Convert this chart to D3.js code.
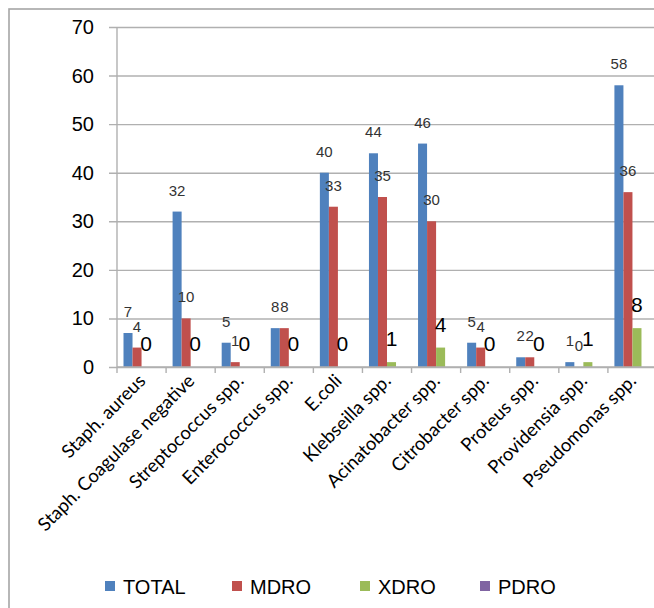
<!DOCTYPE html>
<html>
<head>
<meta charset="utf-8">
<script src="https://cdn.jsdelivr.net/npm/d3@7"></script>
<style>
  html, body { margin: 0; padding: 0; background: #fff; }
  svg { display: block; }
</style>
</head>
<body>
<svg id="chart" width="654" height="608"></svg>
<script>
// Isolated organisms and their resistance categories
const categories = [
  "Staph. aureus", "Staph. Coagulase negative", "Streptococcus spp.",
  "Enterococcus spp.", "E.coli", "Klebseilla spp.", "Acinatobacter spp.",
  "Citrobacter spp.", "Proteus spp.", "Providensia spp.", "Pseudomonas spp."
];
const seriesNames = ["TOTAL", "MDRO", "XDRO", "PDRO"];
const seriesColors = ["#4F81BD", "#C0504D", "#9BBB59", "#8064A2"];
const totalValues = [7, 32, 5, 8, 40, 44, 46, 5, 2, 1, 58];
const mdroValues  = [4, 10, 1, 8, 33, 35, 30, 4, 2, 0, 36];
const xdroValues  = [0, 0, 0, 0, 0, 1, 4, 0, 0, 1, 8];
const pdroValues  = [0, 0, 0, 0, 0, 0, 0, 0, 0, 0, 0];
const yTicks = [0, 10, 20, 30, 40, 50, 60, 70];

const seriesValues = [totalValues, mdroValues, xdroValues, pdroValues];

const svg = d3.select("#chart");
const plot = { left: 117, right: 657, top: 27, bottom: 367 };

const x = d3.scaleBand().domain(categories).range([plot.left, plot.right]);
const xs = d3.scaleBand().domain(seriesNames).range([6.5, x.bandwidth() - 6.5]);
const y = d3.scaleLinear().domain([0, 70]).range([plot.bottom, plot.top]);

// chart frame
svg.append("rect")
  .attr("x", 9).attr("y", 9)
  .attr("width", 700).attr("height", 700)
  .attr("fill", "none")
  .attr("stroke", "#a6a6a6")
  .attr("stroke-width", 1.6);

// horizontal gridlines
const yAxis = d3.axisLeft(y).tickValues(yTicks)
  .tickSize(-(plot.right - plot.left)).tickFormat("");
svg.append("g")
  .attr("transform", `translate(${plot.left},0)`)
  .call(yAxis)
  .call(g => g.select(".domain").remove())
  .call(g => g.selectAll(".tick line")
    .attr("stroke", "#b0b0b0").attr("stroke-width", 1.4)
    .attr("x1", -8));

// y-axis line
svg.append("line")
  .attr("x1", plot.left).attr("x2", plot.left)
  .attr("y1", plot.top).attr("y2", plot.bottom)
  .attr("stroke", "#b0b0b0").attr("stroke-width", 1.4);

// y tick labels
svg.append("g").selectAll("text")
  .data(yTicks).join("text")
  .attr("x", 94).attr("y", d => y(d) + 7)
  .attr("text-anchor", "end")
  .attr("font-family", "Liberation Sans, Arial, sans-serif")
  .attr("font-size", 20)
  .attr("fill", "#000")
  .text(d => d);

// x-axis ticks at band boundaries
const bounds = categories.map(c => x(c)).concat([plot.right]);
svg.append("g").selectAll("line")
  .data(bounds).join("line")
  .attr("x1", d => d).attr("x2", d => d)
  .attr("y1", plot.bottom).attr("y2", plot.bottom + 6)
  .attr("stroke", "#b0b0b0").attr("stroke-width", 1.4);

// bars
const rows = [];
categories.forEach((c, i) => {
  seriesNames.forEach((s, j) => {
    rows.push({ cat: c, series: s, idx: j, value: seriesValues[j][i] });
  });
});

svg.append("g").selectAll("rect")
  .data(rows.filter(d => d.value > 0)).join("rect")
  .attr("x", d => x(d.cat) + xs(d.series))
  .attr("y", d => y(d.value))
  .attr("width", xs.bandwidth())
  .attr("height", d => y(0) - y(d.value))
  .attr("fill", d => seriesColors[d.idx]);

// x-axis baseline
svg.append("line")
  .attr("x1", plot.left).attr("x2", plot.right)
  .attr("y1", plot.bottom).attr("y2", plot.bottom)
  .attr("stroke", "#b0b0b0").attr("stroke-width", 1.4);

// value labels (TOTAL and MDRO small, XDRO large, PDRO unlabeled)
svg.append("g").selectAll("text")
  .data(rows.filter(d => d.series !== "PDRO")).join("text")
  .attr("x", d => x(d.cat) + xs(d.series) + xs.bandwidth() / 2)
  .attr("y", d => y(d.value) - 16)
  .attr("text-anchor", "middle")
  .attr("font-family", "Liberation Sans, Arial, sans-serif")
  .attr("font-size", d => d.series === "XDRO" ? 21 : 15)
  .attr("fill", d => d.series === "XDRO" ? "#000" : "#333")
  .text(d => d.value);

// rotated category labels
svg.append("g").selectAll("text")
  .data(categories).join("text")
  .attr("transform", c => `translate(${x(c) + x.bandwidth() / 2 + 5},${plot.bottom + 15}) rotate(-45)`)
  .attr("text-anchor", "end")
  .attr("font-family", "Lato, 'Open Sans', sans-serif")
  .attr("font-size", 18.5)
  .attr("fill", "#000")
  .text(c => c);

// legend
const legendX = [105, 232, 360, 480];
const legend = svg.append("g").selectAll("g")
  .data(seriesNames).join("g")
  .attr("transform", (d, i) => `translate(${legendX[i]},586)`);
legend.append("rect")
  .attr("x", 0).attr("y", -5)
  .attr("width", 10).attr("height", 10)
  .attr("fill", (d, i) => seriesColors[i]);
legend.append("text")
  .attr("x", 18).attr("y", 7.5)
  .attr("font-family", "Liberation Sans, Arial, sans-serif")
  .attr("font-size", 20)
  .attr("fill", "#000")
  .text(d => d);
</script>
</body>
</html>
